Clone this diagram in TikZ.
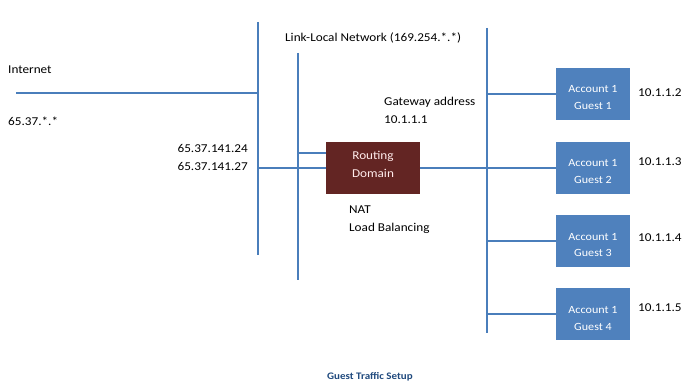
\documentclass[tikz,border=0pt]{standalone}
\usepackage{fontspec}
\setmainfont[FakeStretch=1.1]{Carlito}
\usetikzlibrary{positioning}
\definecolor{wireblue}{HTML}{4A7EBB}
\definecolor{guestblue}{HTML}{4F81BD}
\definecolor{routered}{HTML}{632523}
\definecolor{captionblue}{HTML}{1F497D}
\tikzset{
  wire/.style={draw=wireblue,line width=1.3pt},
  guestbox/.style={fill=guestblue,minimum width=74pt,minimum height=52pt,inner sep=0pt},
  routerbox/.style={fill=routered,minimum width=94pt,minimum height=51pt,inner sep=0pt},
  boxtext/.style={text=white,align=center,inner sep=0pt,font=\fontsize{11}{17}\selectfont},
  lbl/.style={inner sep=0pt,anchor=west}
}
\begin{document}
\begin{tikzpicture}[x=1pt,y=-1pt,font=\fontsize{12}{18}\selectfont]
  \useasboundingbox (0,0) rectangle (683,385);
  % buses
  \coordinate (pubtop) at (258,22);
  \coordinate (pubbot) at (258,255);
  \coordinate (lltop) at (298,53);
  \coordinate (llbot) at (298,280);
  \coordinate (guesttop) at (487,28);
  \coordinate (guestbot) at (487,333);
  \coordinate (inet) at (16,93);
  \coordinate (llhook) at (298,153);
  \draw [wire] (pubtop) -- (pubbot);
  \draw [wire] (lltop) -- (llbot);
  \draw [wire] (guesttop) -- (guestbot);
  \draw [wire] (inet) -- (inet -| pubtop);
  % boxes
  \node [routerbox] (router) at (373,168) {};
  \node [boxtext,text=white!92!red,font=\fontsize{12}{18}\selectfont] (routertext) at ([yshift=3.5pt]router.center) {Routing\\Domain};
  \foreach \i/\y in {1/94,2/168,3/241,4/314}{
    \node [guestbox] (g\i) at (593,\y) {};
    \node [boxtext] (g\i text) at ([yshift=-4pt]g\i.center) {Account 1\\Guest \i};
  }
  % links
  \draw [wire] (llhook) -- (llhook -| router.west);
  \draw [wire] (router.west) -- (router.west -| pubtop);
  \draw [wire] (router.east) -- (g2.west);
  \draw [wire] (g1.west) -- (g1.west -| guesttop);
  \draw [wire] (g3.west) -- (g3.west -| guesttop);
  \draw [wire] (g4.west) -- (g4.west -| guesttop);
  % labels
  \node [lbl] (internet) at (8,70) {Internet};
  \node [lbl] (pubnet) at (8,121) {65.37.*.*};
  \node [lbl,anchor=east] (pubip1) at (248,148) {65.37.141.24};
  \node [lbl,anchor=east] (pubip2) at (248,166) {65.37.141.27};
  \node [lbl] (llnet) at (285,38) {Link-Local Network (169.254.*.*)};
  \node [lbl] (gw) at (384,102) {Gateway address};
  \node [lbl] (gwip) at (384,120) {10.1.1.1};
  \node [lbl] (nat) at (349,210) {NAT};
  \node [lbl] (lb) at (349,228) {Load Balancing};
  \node [lbl] (ip1) at (638,93) {10.1.1.2};
  \node [lbl] (ip2) at (638,162) {10.1.1.3};
  \node [lbl] (ip3) at (638,238) {10.1.1.4};
  \node [lbl] (ip4) at (638,308) {10.1.1.5};
  \node [inner sep=0pt,text=captionblue,font=\fontsize{10}{12}\selectfont\bfseries] (caption) at (370,377) {Guest Traffic Setup};
\end{tikzpicture}
\end{document}
